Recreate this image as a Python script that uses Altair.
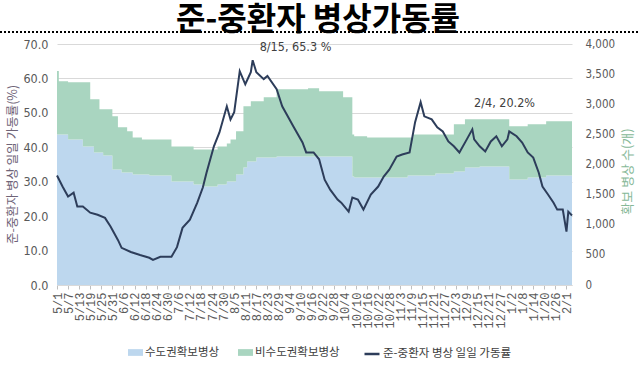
import altair as alt
import pandas as pd

# ---- data ----
rate_dates = [
    "2022-05-01", "2022-05-04", "2022-05-07", "2022-05-10", "2022-05-12", "2022-05-15",
    "2022-05-19", "2022-05-23", "2022-05-27", "2022-05-30", "2022-06-03", "2022-06-05",
    "2022-06-10", "2022-06-15", "2022-06-20", "2022-06-22", "2022-06-26", "2022-07-02",
    "2022-07-05", "2022-07-08", "2022-07-12", "2022-07-16", "2022-07-19", "2022-07-21",
    "2022-07-25", "2022-07-28", "2022-08-01", "2022-08-03", "2022-08-05", "2022-08-08",
    "2022-08-11", "2022-08-14", "2022-08-15", "2022-08-17", "2022-08-21", "2022-08-23",
    "2022-08-28", "2022-08-31", "2022-09-03", "2022-09-06", "2022-09-11", "2022-09-13",
    "2022-09-17", "2022-09-20", "2022-09-23", "2022-09-26", "2022-09-30", "2022-10-02",
    "2022-10-06", "2022-10-08", "2022-10-11", "2022-10-14", "2022-10-18", "2022-10-22",
    "2022-10-25", "2022-10-28", "2022-11-01", "2022-11-04", "2022-11-08", "2022-11-11",
    "2022-11-14", "2022-11-16", "2022-11-20", "2022-11-23", "2022-11-26", "2022-11-29",
    "2022-12-02", "2022-12-05", "2022-12-09", "2022-12-12", "2022-12-13", "2022-12-16",
    "2022-12-19", "2022-12-22", "2022-12-25", "2022-12-28", "2022-12-31", "2023-01-01",
    "2023-01-05", "2023-01-08", "2023-01-11", "2023-01-14", "2023-01-17", "2023-01-19",
    "2023-01-22", "2023-01-25", "2023-01-27", "2023-01-30", "2023-02-01", "2023-02-02",
    "2023-02-04",
]
rate_values = [
    31.8, 28.6, 25.7, 26.8, 22.8, 22.8,
    21.0, 20.4, 19.5, 17.0, 13.1, 10.8,
    9.6, 8.7, 7.9, 7.3, 8.2, 8.2,
    11.0, 16.6, 19.0, 23.9, 28.3, 32.6,
    40.3, 44.3, 51.9, 48.1, 50.2, 62.1,
    58.3, 61.8, 65.3, 61.8, 59.8, 60.7,
    56.9, 51.9, 49.0, 46.1, 41.4, 38.5,
    38.5, 36.5, 30.6, 27.7, 24.8, 23.9,
    21.3, 25.4, 24.8, 21.9, 26.3, 28.6,
    31.5, 33.5, 37.3, 37.9, 38.5, 47.3,
    53.1, 49.0, 48.1, 45.8, 44.6, 41.7,
    40.3, 38.5, 42.3, 45.2, 42.3, 40.3,
    38.8, 41.7, 43.2, 40.3, 42.3, 44.6,
    43.2, 41.4, 38.5, 37.0, 32.6, 28.6,
    26.3, 23.9, 21.9, 21.9, 15.5, 21.3,
    20.2,
]

bed_dates = [
    "2022-05-01", "2022-05-02", "2022-05-07", "2022-05-15", "2022-05-19", "2022-05-21",
    "2022-05-24", "2022-05-26", "2022-05-31", "2022-06-03", "2022-06-05", "2022-06-08",
    "2022-06-11", "2022-06-16", "2022-06-20", "2022-07-02", "2022-07-14", "2022-07-19",
    "2022-07-27", "2022-08-01", "2022-08-03", "2022-08-06", "2022-08-10", "2022-08-12",
    "2022-08-14", "2022-08-17", "2022-08-21", "2022-08-28", "2022-09-14", "2022-09-20",
    "2022-10-03", "2022-10-08", "2022-10-09", "2022-10-16", "2022-11-07", "2022-11-10",
    "2022-11-22", "2022-12-02", "2022-12-08", "2022-12-16", "2023-01-01", "2023-01-11",
    "2023-01-21", "2023-02-04",
]
capital_beds = [
    2500, 2500, 2417, 2300, 2300, 2200,
    2200, 2150, 1917, 1917, 1867, 1867,
    1833, 1833, 1817, 1717, 1667, 1633,
    1667, 1717, 1717, 1833, 1950, 2050,
    2050, 2117, 2117, 2133, 2133, 2133,
    2133, 1800, 1783, 1783, 1817, 1817,
    1850, 1883, 1950, 1967, 1750, 1783,
    1817, 1817,
]
noncapital_beds = [
    1050, 883, 950, 1067, 783, 883,
    717, 767, 883, 700, 750, 683,
    617, 584, 600, 583, 583, 617,
    633, 633, 700, 717, 1017, 917,
    1000, 933, 1000, 1117, 1134, 1084,
    984, 700, 684, 667, 633, 683,
    650, 784, 800, 783, 883, 884,
    900, 900,
]

series_names = ["수도권확보병상", "비수도권확보병상"]
line_name = "준-중환자 병상 일일 가동률"
rate_ticks = [0, 10, 20, 30, 40, 50, 60, 70]
bed_ticks = [0, 500, 1000, 1500, 2000, 2500, 3000, 3500, 4000]
peak_label = "8/15, 65.3 %"
end_label = "2/4, 20.2%"
chart_title = "준-중환자 병상가동률"

# ---- tables ----
bed_df = pd.concat([
    pd.DataFrame({"date": bed_dates, "beds": capital_beds, "series": series_names[0], "ord": 0}),
    pd.DataFrame({"date": bed_dates, "beds": noncapital_beds, "series": series_names[1], "ord": 1}),
])
rate_df = pd.DataFrame({"date": rate_dates, "rate": rate_values, "series": line_name})
peak_df = pd.DataFrame({"date": ["2022-08-15"], "rate": [65.3], "label": [peak_label]})
end_df = pd.DataFrame({"date": ["2023-02-04"], "rate": [20.2], "label": [end_label]})

tick_dates = [alt.DateTime(year=d.year, month=d.month, date=d.day, utc=True)
              for d in pd.date_range("2022-05-01", "2023-02-01", freq="6D")]

NUM_FONT = "Liberation Sans Narrow, DejaVu Sans Condensed, Liberation Sans, sans-serif"
KR_FONT = "Noto Sans CJK KR"

x_scale = alt.Scale(type="utc", nice=False,
                    domain=[alt.DateTime(year=2022, month=5, date=1, utc=True),
                            alt.DateTime(year=2023, month=2, date=4, utc=True)])


def x_enc():
    return alt.X("date:T", scale=x_scale, axis=alt.Axis(
        values=tick_dates, labelExpr="utcFormat(datum.value, '%-m/%-d')",
        labelAngle=-90, labelFont="Liberation Mono", labelFontSize=12,
        labelColor="#595959", labelPadding=3, tickSize=4, tickColor="#bfbfbf",
        domainColor="#d9d9d9", grid=False, title=None, labelOverlap=False,
        labelFlush=False))


area = alt.Chart(bed_df).mark_area(interpolate="step-after").encode(
    x=x_enc(),
    y=alt.Y("beds:Q", stack="zero",
            scale=alt.Scale(domain=[0, 4000], nice=False),
            axis=alt.Axis(orient="right", values=bed_ticks, format=",.0f", grid=False,
                          ticks=False, domain=False, labelPadding=13,
                          labelFont=NUM_FONT, labelFontSize=11.5, labelColor="#595959",
                          title="확보 병상 수(개)", titleFont=KR_FONT, titleFontSize=13,
                          titleFontWeight="normal", titleColor="#86b897",
                          titleAngle=-90, titleX=55, titleY=127,
                          titleAlign="center", titleBaseline="middle")),
    fill=alt.Fill("series:N",
                  scale=alt.Scale(domain=series_names, range=["#bdd7ee", "#a9d5c0"]),
                  legend=alt.Legend(orient="none", legendX=71, legendY=301,
                                    direction="horizontal", title=None,
                                    symbolType="M-1,-0.45L1,-0.45L1,0.45L-1,0.45Z",
                                    symbolSize=225, symbolStrokeWidth=0,
                                    labelFont=KR_FONT, labelFontSize=11.5,
                                    labelColor="#404040", labelOffset=2,
                                    columnPadding=18, padding=0)),
    order=alt.Order("ord:Q"),
)

line = alt.Chart(rate_df).mark_line(strokeWidth=2, interpolate="linear").encode(
    x=x_enc(),
    y=alt.Y("rate:Q", scale=alt.Scale(domain=[0, 70], nice=False),
            axis=alt.Axis(orient="left", values=rate_ticks, format=".1f", grid=True,
                          gridColor="#d9d9d9", ticks=False, domain=False, labelPadding=9,
                          labelFont=NUM_FONT, labelFontSize=12.5, labelColor="#595959",
                          title="준-중환자 병상 일일 가동률(%)", titleFont=KR_FONT,
                          titleFontSize=12.5, titleFontWeight="normal", titleColor="#6f6478",
                          titleAngle=-90, titleX=-45, titleY=120,
                          titleAlign="center", titleBaseline="middle")),
    stroke=alt.Stroke("series:N",
                      scale=alt.Scale(domain=[line_name], range=["#2d3d5a"]),
                      legend=alt.Legend(orient="none", legendX=306, legendY=301,
                                        title=None, symbolType="stroke", symbolSize=225,
                                        symbolStrokeWidth=2.5, labelFont=KR_FONT,
                                        labelFontSize=11.5, labelColor="#404040",
                                        labelOffset=2, padding=0)),
)

peak_text = alt.Chart(peak_df).mark_text(
    align="left", baseline="alphabetic", dx=7, dy=-9,
    font=NUM_FONT, fontSize=12.5, color="#404040",
).encode(
    x=x_enc(),
    y=alt.Y("rate:Q", scale=alt.Scale(domain=[0, 70], nice=False), axis=None),
    text="label:N",
)

end_text = alt.Chart(end_df).mark_text(
    align="right", baseline="alphabetic", dx=-37, dy=-108,
    font=NUM_FONT, fontSize=12.5, color="#404040",
).encode(
    x=x_enc(),
    y=alt.Y("rate:Q", scale=alt.Scale(domain=[0, 70], nice=False), axis=None),
    text="label:N",
)

dots = alt.Chart(alt.Data(values=[{}])).mark_rule(
    strokeDash=[2, 2], strokeWidth=2, color="#000000"
).encode(x=alt.value(-57), x2=alt.value(582), y=alt.value(-12))

title = alt.Chart(alt.Data(values=[{"t": chart_title}])).mark_text(
    font=KR_FONT, fontSize=32, fontWeight="bold", color="#000000",
    align="center", baseline="alphabetic",
).encode(text="t:N", x=alt.value(261), y=alt.value(-14))

chart = alt.layer(area, line, peak_text, end_text, dots, title).resolve_scale(
    y="independent"
).properties(
    width=515, height=241,
    autosize=alt.AutoSizeParams(type="none"),
    padding={"left": 57, "top": 44, "right": 67, "bottom": 92},
).configure_view(stroke=None)

chart.save("out.html", embed_options={"renderer": "svg", "actions": False})
